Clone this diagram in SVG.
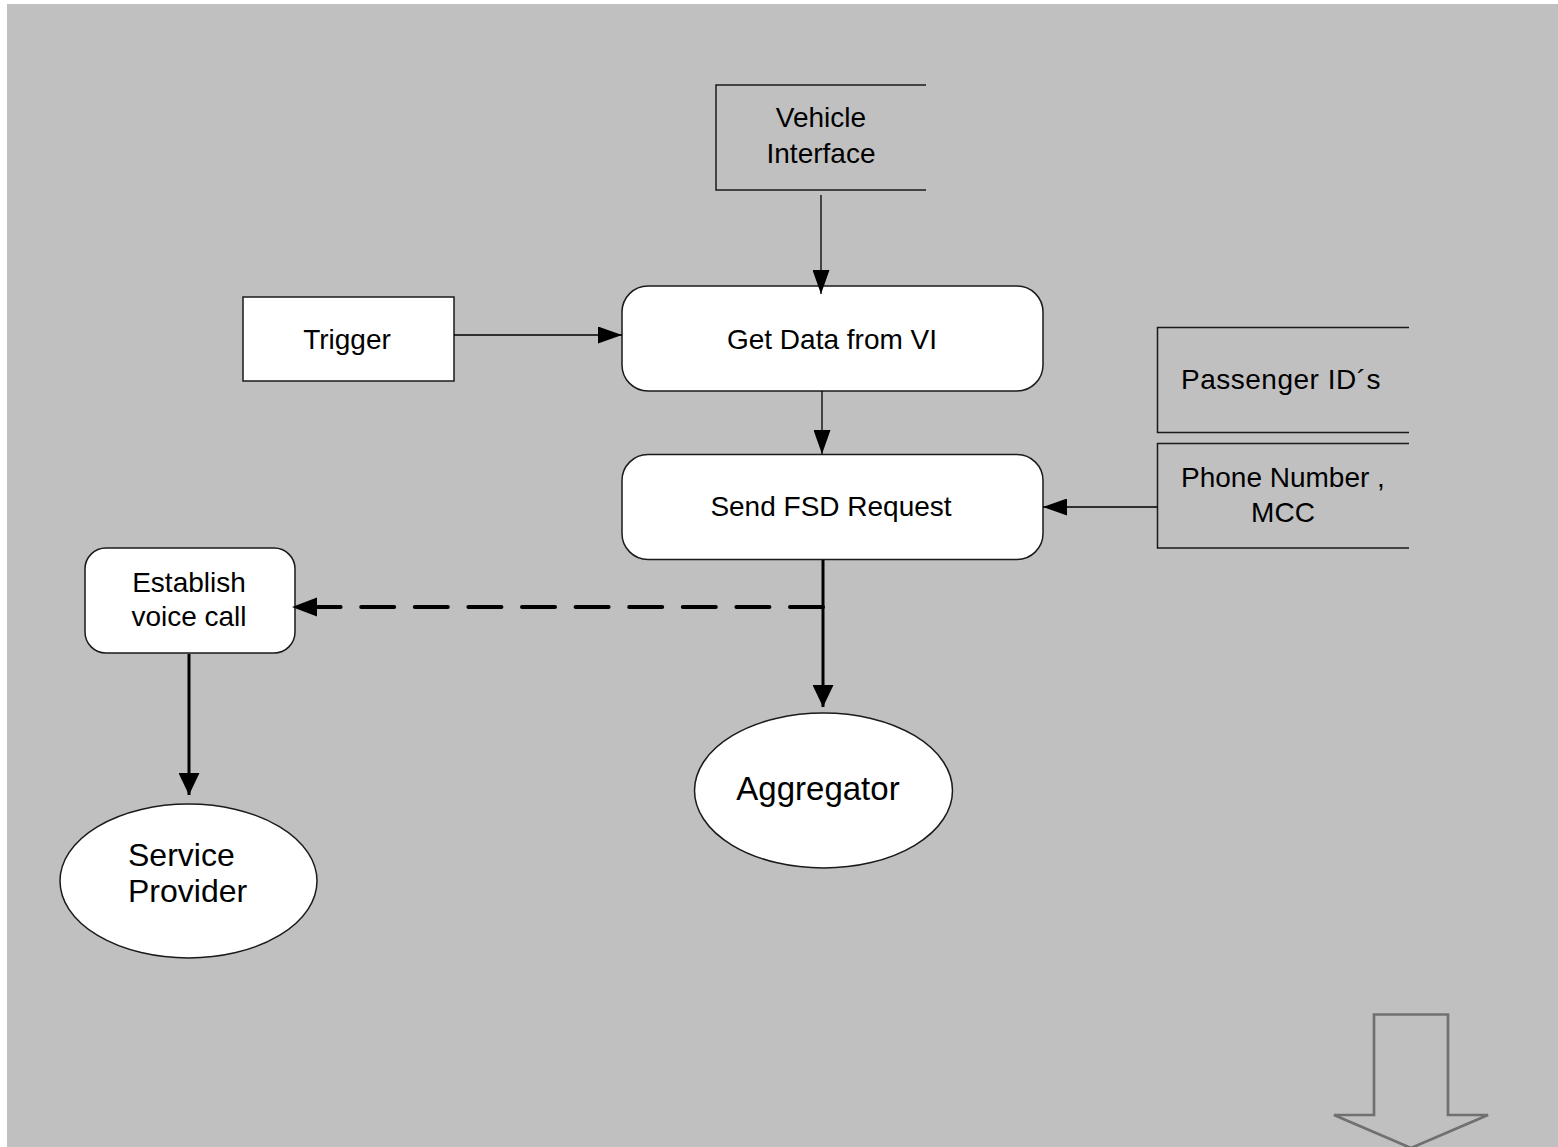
<svg xmlns="http://www.w3.org/2000/svg" width="1558" height="1147" viewBox="0 0 1558 1147">
  <style>
    .box { fill: #ffffff; stroke: #1a1a1a; stroke-width: 1.5; }
    .open { fill: none; stroke: #1a1a1a; stroke-width: 1.5; }
    .lbl { font-family: "Liberation Sans", Arial, sans-serif; font-size: 28px; fill: #000000; }
    .big { font-size: 32px; }
    .thin { fill: none; stroke: #000000; stroke-width: 1.3; }
    .thick { fill: none; stroke: #000000; stroke-width: 3; }
    .dash { fill: none; stroke: #000000; stroke-width: 4; stroke-linecap: round; stroke-dasharray: 33 20.6; }
  </style>
  <defs>
    <marker id="head" viewBox="0 0 24 17" refX="24" refY="8.5" markerWidth="24" markerHeight="17" markerUnits="userSpaceOnUse" orient="auto">
      <path d="M0,0 L24,8.5 L0,17 Z" fill="#000000"/>
    </marker>
    <marker id="headBig" viewBox="0 0 22 21" refX="22" refY="10.5" markerWidth="22" markerHeight="21" markerUnits="userSpaceOnUse" orient="auto">
      <path d="M0,0 L22,10.5 L0,21 Z" fill="#000000"/>
    </marker>
  </defs>

  <!-- canvas -->
  <rect x="7" y="4" width="1551" height="1143" fill="#c0c0c0"/>

  <g id="vehicle-interface">
    <polyline class="open" points="926,85 716,85 716,190 926,190"/>
    <text class="lbl" x="821" y="127" text-anchor="middle">Vehicle</text>
    <text class="lbl" x="821" y="163" text-anchor="middle">Interface</text>
  </g>

  <g id="trigger">
    <rect class="box" x="243" y="297" width="211" height="84"/>
    <text class="lbl" x="347" y="349" text-anchor="middle">Trigger</text>
  </g>

  <g id="get-data">
    <rect class="box" x="622" y="286" width="421" height="105" rx="26" ry="26"/>
    <text class="lbl" x="832" y="349" text-anchor="middle">Get Data from VI</text>
  </g>

  <g id="send-fsd">
    <rect class="box" x="622" y="454.5" width="421" height="105" rx="26" ry="26"/>
    <text class="lbl" x="831" y="516" text-anchor="middle">Send FSD Request</text>
  </g>

  <g id="passenger-ids">
    <polyline class="open" points="1409,327.5 1157.5,327.5 1157.5,432.5 1409,432.5"/>
    <text class="lbl" x="1181" y="389" style="letter-spacing:0.5px">Passenger ID´s</text>
  </g>

  <g id="phone-number">
    <polyline class="open" points="1409,443.5 1157.5,443.5 1157.5,548 1409,548"/>
    <text class="lbl" x="1181" y="487">Phone Number ,</text>
    <text class="lbl" x="1283" y="522" text-anchor="middle">MCC</text>
  </g>

  <g id="establish-voice-call">
    <rect class="box" x="85" y="548" width="210" height="105" rx="21" ry="21"/>
    <text class="lbl" x="189" y="592" text-anchor="middle">Establish</text>
    <text class="lbl" x="189" y="626" text-anchor="middle">voice call</text>
  </g>

  <g id="aggregator">
    <ellipse class="box" cx="823.5" cy="790.5" rx="129" ry="77.5"/>
    <text class="lbl big" x="818" y="800" text-anchor="middle" style="font-size:33px">Aggregator</text>
  </g>

  <g id="service-provider">
    <ellipse class="box" cx="188.5" cy="881" rx="128.5" ry="77"/>
    <text class="lbl big" x="128" y="866">Service</text>
    <text class="lbl big" x="128" y="902">Provider</text>
  </g>

  <!-- continuation arrow -->
  <g id="continue-arrow">
    <path d="M1374,1014.5 L1448,1014.5 L1448,1115 L1488,1115 L1411,1148 L1334,1115 L1374,1115 Z" fill="none" stroke="#707070" stroke-width="2.7" stroke-linejoin="miter"/>
  </g>

  <!-- connectors, drawn over the nodes so arrowheads stay visible -->
  <g id="connectors">
    <line class="thin" x1="821" y1="195" x2="821" y2="294" marker-end="url(#head)"/>
    <line class="thin" x1="454" y1="335" x2="622" y2="335" marker-end="url(#head)"/>
    <line class="thin" x1="822" y1="391" x2="822" y2="454" marker-end="url(#head)"/>
    <line class="thin" x1="1157" y1="507" x2="1043" y2="507" marker-end="url(#head)"/>
    <line class="thick" x1="823" y1="560" x2="823" y2="707" marker-end="url(#headBig)"/>
    <line class="dash" x1="823" y1="607" x2="310" y2="607"/>
    <path d="M317,597.5 L292,607 L317,616.5 Z" fill="#000000"/>
    <line class="thick" x1="189" y1="654" x2="189" y2="795" marker-end="url(#headBig)"/>
  </g>
</svg>
